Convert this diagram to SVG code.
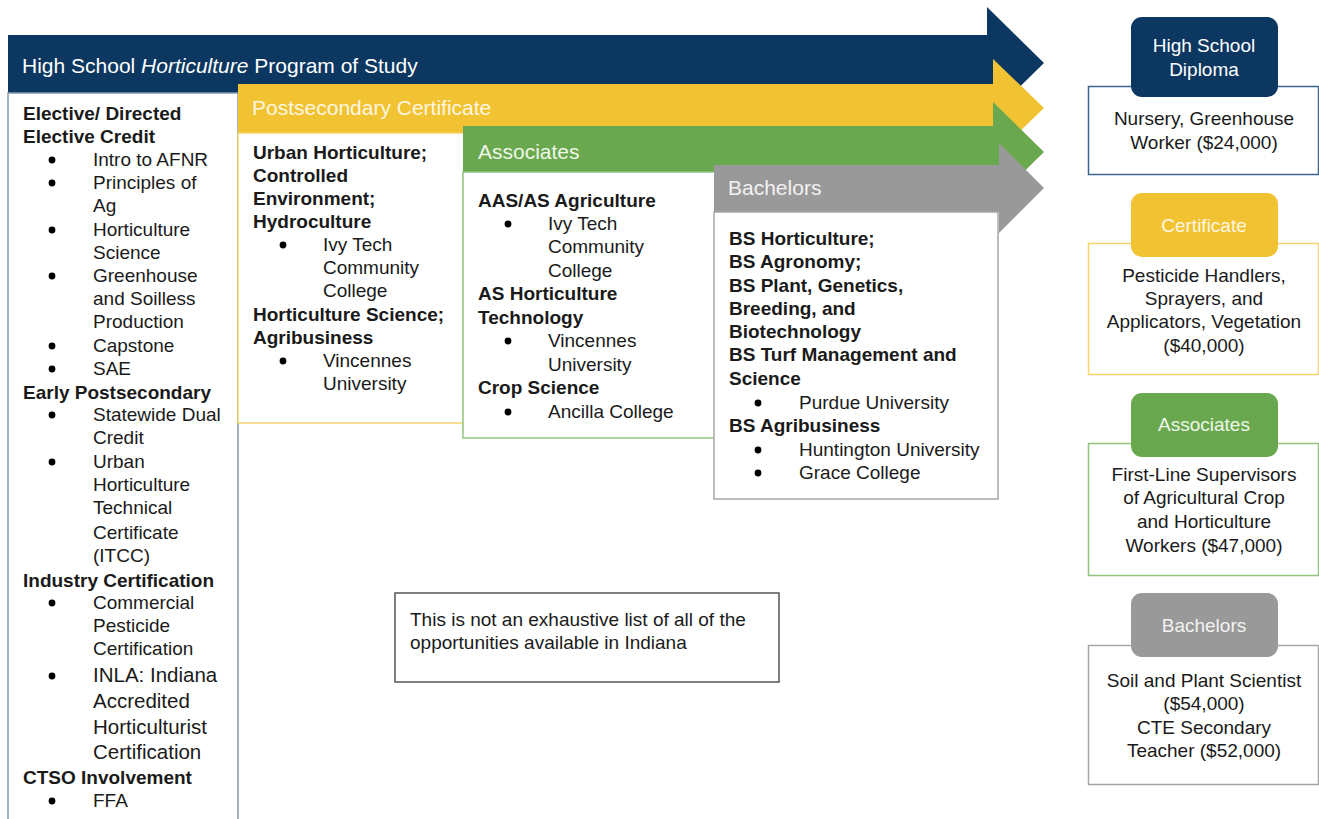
<svg xmlns="http://www.w3.org/2000/svg" width="1319" height="819" viewBox="0 0 1319 819">
<style>
text{font-family:"Liberation Sans",Arial,Helvetica,sans-serif;fill:#1a1a1a}
.t{font-size:19px}
.b{font-size:19px;font-weight:bold}
.h{font-size:21px}
.c{font-size:19px;text-anchor:middle}
.box{fill:#fff}
</style>
<defs>
<circle id="dot" r="3.4" fill="#000"/>
</defs>
<rect width="1319" height="819" fill="#fff"/>

<g id="arrow-highschool">
<polygon points="8,35 987,35 987,7 1044,63 987,119 987,93 8,93" fill="#0b3761"/>
<text x="22" y="73" class="h" style="fill:#fff">High School <tspan font-style="italic">Horticulture</tspan> Program of Study</text>
</g>

<g id="box-highschool">
<rect x="8" y="93" width="230" height="740" class="box" stroke="#8599b0" stroke-width="1.5"/>
<text x="23" y="120" class="b">Elective/ Directed</text>
<text x="23" y="143" class="b">Elective Credit</text>
<use href="#dot" x="52" y="160"/><text x="93" y="166" class="t">Intro to AFNR</text>
<use href="#dot" x="52" y="183"/><text x="93" y="189" class="t">Principles of</text>
<text x="93" y="212" class="t">Ag</text>
<use href="#dot" x="52" y="230"/><text x="93" y="236" class="t">Horticulture</text>
<text x="93" y="259" class="t">Science</text>
<use href="#dot" x="52" y="276"/><text x="93" y="282" class="t">Greenhouse</text>
<text x="93" y="305" class="t">and Soilless</text>
<text x="93" y="328" class="t">Production</text>
<use href="#dot" x="52" y="346"/><text x="93" y="352" class="t">Capstone</text>
<use href="#dot" x="52" y="369"/><text x="93" y="375" class="t">SAE</text>
<text x="23" y="399" class="b">Early Postsecondary</text>
<use href="#dot" x="52" y="415"/><text x="93" y="421" class="t">Statewide Dual</text>
<text x="93" y="444" class="t">Credit</text>
<use href="#dot" x="52" y="462"/><text x="93" y="468" class="t">Urban</text>
<text x="93" y="491" class="t">Horticulture</text>
<text x="93" y="514" class="t">Technical</text>
<text x="93" y="539" class="t">Certificate</text>
<text x="93" y="562" class="t">(ITCC)</text>
<text x="23" y="587" class="b">Industry Certification</text>
<use href="#dot" x="52" y="603"/><text x="93" y="609" class="t">Commercial</text>
<text x="93" y="632" class="t">Pesticide</text>
<text x="93" y="655" class="t">Certification</text>
<use href="#dot" x="52" y="676"/><text x="93" y="682" style="font-size:20.5px">INLA: Indiana</text>
<text x="93" y="708" style="font-size:20.5px">Accredited</text>
<text x="93" y="734" style="font-size:20.5px">Horticulturist</text>
<text x="93" y="759" style="font-size:20.5px">Certification</text>
<text x="23" y="784" class="b">CTSO Involvement</text>
<use href="#dot" x="52" y="801"/><text x="93" y="807" class="t">FFA</text>
</g>

<g id="arrow-certificate">
<polygon points="238,84 993,84 993,59 1044,108 993,157 993,133 238,133" fill="#f1c232"/>
<text x="252" y="115" class="h" style="fill:#fff7e0">Postsecondary Certificate</text>
</g>
<g id="box-certificate">
<rect x="238" y="133" width="235" height="290" class="box" stroke="#f5d46e" stroke-width="1.5"/>
<text x="253" y="159" class="b">Urban Horticulture;</text>
<text x="253" y="182" class="b">Controlled</text>
<text x="253" y="205" class="b">Environment;</text>
<text x="253" y="228" class="b">Hydroculture</text>
<use href="#dot" x="283" y="245"/><text x="323" y="251" class="t">Ivy Tech</text>
<text x="323" y="274" class="t">Community</text>
<text x="323" y="297" class="t">College</text>
<text x="253" y="321" class="b">Horticulture Science;</text>
<text x="253" y="344" class="b">Agribusiness</text>
<use href="#dot" x="283" y="361"/><text x="323" y="367" class="t">Vincennes</text>
<text x="323" y="390" class="t">University</text>
</g>

<g id="arrow-associates">
<polygon points="463,126 993,126 993,102 1044,152 993,202 993,172 463,172" fill="#6aa84f"/>
<text x="478" y="159" class="h" style="fill:#eef7e8">Associates</text>
</g>
<g id="box-associates">
<rect x="463" y="172" width="260" height="266" class="box" stroke="#93c47d" stroke-width="1.5"/>
<text x="478" y="207" class="b">AAS/AS Agriculture</text>
<use href="#dot" x="508" y="224"/><text x="548" y="230" class="t">Ivy Tech</text>
<text x="548" y="253" class="t">Community</text>
<text x="548" y="277" class="t">College</text>
<text x="478" y="300" class="b">AS Horticulture</text>
<text x="478" y="324" class="b">Technology</text>
<use href="#dot" x="508" y="341"/><text x="548" y="347" class="t">Vincennes</text>
<text x="548" y="371" class="t">University</text>
<text x="478" y="394" class="b">Crop Science</text>
<use href="#dot" x="508" y="412"/><text x="548" y="418" class="t">Ancilla College</text>
</g>

<g id="arrow-bachelors">
<polygon points="714,165 999,165 999,143 1044,188 999,233 999,212 714,212" fill="#999999"/>
<text x="728" y="195" class="h" style="fill:#f2f2f2">Bachelors</text>
</g>
<g id="box-bachelors">
<rect x="714" y="212" width="284" height="287" class="box" stroke="#a6a6a6" stroke-width="1.5"/>
<text x="729" y="245" class="b">BS Horticulture;</text>
<text x="729" y="268" class="b">BS Agronomy;</text>
<text x="729" y="292" class="b">BS Plant, Genetics,</text>
<text x="729" y="315" class="b">Breeding, and</text>
<text x="729" y="338" class="b">Biotechnology</text>
<text x="729" y="361" class="b">BS Turf Management and</text>
<text x="729" y="385" class="b">Science</text>
<use href="#dot" x="758" y="403"/><text x="799" y="409" class="t">Purdue University</text>
<text x="729" y="432" class="b">BS Agribusiness</text>
<use href="#dot" x="758" y="450"/><text x="799" y="456" class="t">Huntington University</text>
<use href="#dot" x="758" y="473"/><text x="799" y="479" class="t">Grace College</text>
</g>

<g id="note">
<rect x="395" y="593" width="384" height="89" fill="#fff" stroke="#555" stroke-width="1.5"/>
<text x="410" y="626" class="t">This is not an exhaustive list of all of the</text>
<text x="410" y="649" class="t">opportunities available in Indiana</text>
</g>

<g id="outcome-diploma">
<rect x="1088.5" y="86.5" width="230" height="88" fill="#fff" stroke="#3d6591" stroke-width="1.5"/>
<rect x="1131" y="17" width="147" height="80" rx="11" fill="#0b3761"/>
<text x="1204" y="52" class="c" style="fill:#fff">High School</text>
<text x="1204" y="76" class="c" style="fill:#fff">Diploma</text>
<text x="1204" y="125" class="c">Nursery, Greenhouse</text>
<text x="1204" y="149" class="c">Worker ($24,000)</text>
</g>

<g id="outcome-certificate">
<rect x="1088.5" y="243.5" width="230" height="131" fill="#fff" stroke="#f5d46e" stroke-width="1.5"/>
<rect x="1131" y="193" width="147" height="64" rx="11" fill="#f1c232"/>
<text x="1204" y="232" class="c" style="fill:#fff7e0">Certificate</text>
<text x="1204" y="282" class="c">Pesticide Handlers,</text>
<text x="1204" y="305" class="c">Sprayers, and</text>
<text x="1204" y="328" class="c">Applicators, Vegetation</text>
<text x="1204" y="352" class="c">($40,000)</text>
</g>

<g id="outcome-associates">
<rect x="1088.5" y="443.5" width="230" height="132" fill="#fff" stroke="#93c47d" stroke-width="1.5"/>
<rect x="1131" y="393" width="147" height="64" rx="11" fill="#6aa84f"/>
<text x="1204" y="431" class="c" style="fill:#eef7e8">Associates</text>
<text x="1204" y="481" class="c">First-Line Supervisors</text>
<text x="1204" y="504" class="c">of Agricultural Crop</text>
<text x="1204" y="528" class="c">and Horticulture</text>
<text x="1204" y="552" class="c">Workers ($47,000)</text>
</g>

<g id="outcome-bachelors">
<rect x="1088.5" y="645.5" width="230" height="139" fill="#fff" stroke="#a6a6a6" stroke-width="1.5"/>
<rect x="1131" y="593" width="147" height="64" rx="11" fill="#999999"/>
<text x="1204" y="632" class="c" style="fill:#f2f2f2">Bachelors</text>
<text x="1204" y="687" class="c">Soil and Plant Scientist</text>
<text x="1204" y="710" class="c">($54,000)</text>
<text x="1204" y="734" class="c">CTE Secondary</text>
<text x="1204" y="757" class="c">Teacher ($52,000)</text>
</g>
</svg>
